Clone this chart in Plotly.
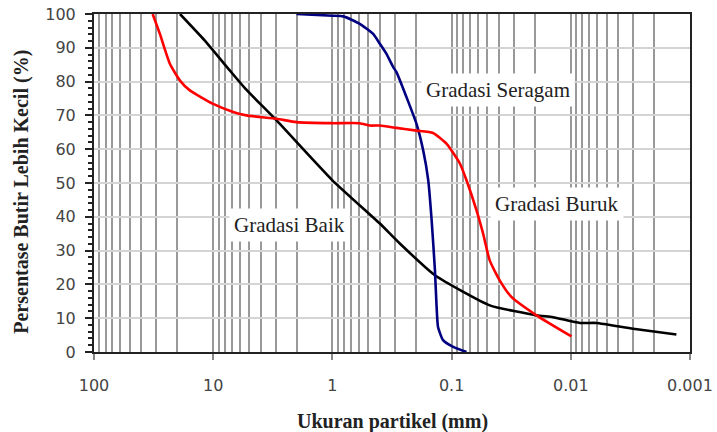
import math
import plotly.graph_objects as go

# Gradasi Baik (black)
baik_size = [19.0, 11.8, 7.26, 5.4, 2.94, 1.0, 0.40, 0.272, 0.138, 0.0478,
             0.0194, 0.0141, 0.0084, 0.0061, 0.003, 0.0013]
baik_pct = [100, 92.2, 83.3, 78.0, 68.5, 50.8, 38.0, 32.1, 22.7, 13.8,
            10.85, 10.3, 8.6, 8.6, 6.9, 5.2]

# Gradasi Seragam (navy)
seragam_size = [2.0, 1.0, 0.81, 0.59, 0.455, 0.40, 0.352, 0.309, 0.29, 0.239, 0.197,
                0.173, 0.157, 0.147, 0.138, 0.134, 0.13, 0.118, 0.097, 0.075]
seragam_pct = [100, 99.5, 99.3, 97.1, 94.1, 91.2, 88.2, 84.3, 82.8, 75.4, 67.5,
               59.6, 50.8, 38.9, 24.2, 14.3, 7.4, 3.5, 1.5, 0]

# Gradasi Buruk (red)
buruk_size = [32.2, 28.0, 23.1, 19.0, 15.7, 10.0, 6.8, 5.26, 2.94, 2.0, 1.0, 0.59,
              0.485, 0.40, 0.29, 0.197, 0.143, 0.110, 0.085, 0.075, 0.0618, 0.0544,
              0.0479, 0.0395, 0.0315, 0.0194, 0.00987]
buruk_pct = [100, 94.1, 85.3, 80.3, 77.4, 73.4, 71.0, 70.0, 69.0, 68.0, 67.7, 67.7,
             67.0, 67.0, 66.3, 65.5, 64.8, 61.6, 55.7, 50.8, 41.9, 35.0,
             27.1, 21.2, 16.3, 10.85, 4.6]

x_tickvals = [100, 10, 1, 0.1, 0.01, 0.001]
x_ticktext = ["100", "10", "1", "0.1", "0.01", "0.001"]
y_tickvals = list(range(0, 101, 10))

labels = ["Gradasi Seragam", "Gradasi Baik", "Gradasi Buruk"]
label_x = [0.041, 2.28, 0.013]
label_y = [77.4, 37.5, 43.9]

fig = go.Figure()
fig.add_trace(go.Scatter(x=baik_size, y=baik_pct, mode="lines", line_shape="spline",
                         line=dict(color="#000000", width=2.6, smoothing=0.5), showlegend=False))
fig.add_trace(go.Scatter(x=seragam_size, y=seragam_pct, mode="lines", line_shape="spline",
                         line=dict(color="#000080", width=2.6, smoothing=0.5), showlegend=False))
fig.add_trace(go.Scatter(x=buruk_size, y=buruk_pct, mode="lines", line_shape="spline",
                         line=dict(color="#ff0000", width=2.6, smoothing=0.5), showlegend=False))

for t, lx, ly in zip(labels, label_x, label_y):
    fig.add_annotation(x=math.log10(lx), y=ly, xref="x", yref="y", text=t,
                       showarrow=False, bgcolor="white", borderpad=4,
                       font=dict(family="Liberation Serif", size=21, color="#222"))

fig.add_annotation(x=0.5, y=-0.205, xref="paper", yref="paper",
                   text="<b>Ukuran partikel (mm)</b>", showarrow=False,
                   xanchor="center", yanchor="middle",
                   font=dict(family="Liberation Serif", size=20, color="#222"))
fig.add_annotation(x=-0.122, y=0.475, xref="paper", yref="paper",
                   text="<b>Persentase Butir Lebih Kecil (%)</b>", showarrow=False,
                   textangle=-90, xanchor="center", yanchor="middle",
                   font=dict(family="Liberation Serif", size=20, color="#222"))

fig.update_layout(
    width=717, height=432,
    margin=dict(l=94, r=27, t=14, b=80),
    paper_bgcolor="white", plot_bgcolor="white",
    xaxis=dict(type="log", range=[2, -3], tickvals=x_tickvals, ticktext=x_ticktext,
               automargin=False,
               showgrid=True, gridcolor="#999999", gridwidth=1.5,
               minor=dict(dtick="D1", showgrid=True, gridcolor="#999999", gridwidth=1.5),
               ticks="outside", ticklen=6, tickcolor="#888888", tickwidth=1.5,
               showline=True, linecolor="#222", linewidth=2, mirror=True,
               ticklabelstandoff=12,
               tickfont=dict(family="DejaVu Sans", size=16, color="#444"),
               zeroline=False),
    yaxis=dict(range=[0, 100], tickvals=y_tickvals, automargin=False,
               showgrid=True, gridcolor="#d4d4d4", gridwidth=1.5,
               ticks="outside", ticklen=7, tickcolor="#222", tickwidth=2,
               minor=dict(dtick=2, ticks="outside", ticklen=4, tickcolor="#222",
                          tickwidth=2, showgrid=False),
               showline=True, linecolor="#222", linewidth=2, mirror=True,
               ticklabelstandoff=6,
               tickfont=dict(family="DejaVu Sans", size=16, color="#444"),
               zeroline=False),
)

fig.write_html("out.html", config={"displayModeBar": False},
               post_script="document.body.style.margin='0';document.body.style.overflow='hidden';")
